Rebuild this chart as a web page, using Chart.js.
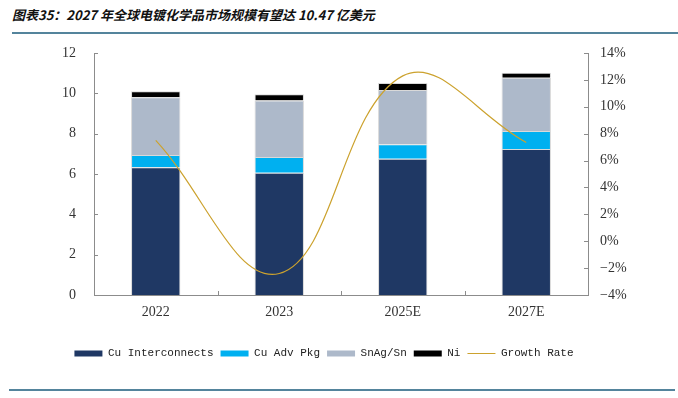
<!DOCTYPE html>
<html lang="zh">
  <head>
    <meta charset="UTF-8" />
    <title>电镀化学品市场规模</title>
    <script src="https://cdn.jsdelivr.net/npm/chart.js"></script>
    <style>
      body { margin: 0; background: #fff; }
      .wrap { position: relative; width: 678px; height: 398px; overflow: hidden; }
      .title {
        position: absolute; left: 12px; top: 5px;
        font-family: "Noto Sans CJK SC", sans-serif;
        font-size: 13px; font-weight: bold; font-style: italic;
        color: #111; white-space: nowrap;
      }
      .rule { position: absolute; height: 2px; background: #54849c; }
      canvas { position: absolute; left: 0; top: 0; }
    </style>
  </head>
  <body>
    <div class="wrap">
      <div class="title">图表35：2027 年全球电镀化学品市场规模有望达 10.47 亿美元</div>
      <div class="rule" style="left:12px; right:0; top:32px"></div>
      <canvas id="myChart" width="678" height="398"></canvas>
      <div class="rule" style="left:9px; width:666px; top:389px"></div>
    </div>
    <script>
      const years = ["2022", "2023", "2025E", "2027E"];
      const cuInter = [6.34, 6.06, 6.76, 7.24]; // Cu Interconnects
      const cuAdv = [0.6, 0.78, 0.71, 0.89]; // Cu Adv Pkg
      const snAg = [2.86, 2.81, 2.69, 2.64]; // SnAg/Sn
      const ni = [0.3, 0.31, 0.35, 0.25]; // Ni
      const growth = [7.5, -2.4, 12.3, 7.35]; // Growth Rate, %

      const axisColor = "#8c8c8c";

      // Excel style ticks: short marks pointing into the plot
      const innerTicks = {
        id: "innerTicks",
        afterDraw(chart) {
          const c = chart.ctx;
          const { x, y, y1 } = chart.scales;
          c.save();
          c.strokeStyle = axisColor;
          c.lineWidth = 1;
          c.beginPath();
          y.ticks.forEach((t) => {
            const py = Math.round(y.getPixelForValue(t.value)) + 0.5;
            c.moveTo(x.left, py);
            c.lineTo(x.left + 4, py);
          });
          y1.ticks.forEach((t) => {
            const py = Math.round(y1.getPixelForValue(t.value)) + 0.5;
            c.moveTo(x.right, py);
            c.lineTo(x.right - 4, py);
          });
          for (let i = 0; i < years.length - 1; i++) {
            const px = Math.round((x.getPixelForValue(i) + x.getPixelForValue(i + 1)) / 2) + 0.5;
            c.moveTo(px, y.bottom);
            c.lineTo(px, y.bottom - 4);
          }
          c.stroke();
          c.restore();
        },
      };

      const tickFont = { family: "'Liberation Serif', serif", size: 14 };
      const noGrid = { display: false, drawTicks: false };

      new Chart(document.getElementById("myChart"), {
        data: {
          labels: years,
          datasets: [
            { type: "bar", label: "Cu Interconnects", data: cuInter, backgroundColor: "#1f3864" },
            { type: "bar", label: "Cu Adv Pkg", data: cuAdv, backgroundColor: "#00b0f0" },
            { type: "bar", label: "SnAg/Sn", data: snAg, backgroundColor: "#adb9ca" },
            { type: "bar", label: "Ni", data: ni, backgroundColor: "#000000" },
            {
              type: "line",
              label: "Growth Rate",
              data: growth,
              yAxisID: "y1",
              borderColor: "#cca22e",
              backgroundColor: "#cca22e",
              borderWidth: 1.2,
              pointRadius: 0,
              tension: 0.4,
              order: 0,
            },
          ].map((d) => (d.type === "bar"
            ? Object.assign(d, { order: 1, borderColor: "#d9d9d9", borderWidth: 1, barPercentage: 0.4, categoryPercentage: 1 })
            : d)),
        },
        options: {
          responsive: false,
          animation: false,
          layout: { padding: { top: 53, left: 0, right: 30, bottom: 29 } },
          scales: {
            x: {
              stacked: true,
              grid: noGrid,
              border: { display: true, color: axisColor },
              ticks: { font: tickFont, color: "#333", padding: 9 },
              afterFit(s) { s.height = 46; },
            },
            y: {
              stacked: true,
              min: 0,
              max: 12,
              grid: noGrid,
              border: { display: true, color: axisColor },
              ticks: { stepSize: 2, font: tickFont, color: "#333", padding: 18 },
              afterFit(s) { s.width = 94; },
            },
            y1: {
              position: "right",
              min: -4,
              max: 14,
              grid: noGrid,
              border: { display: true, color: axisColor },
              ticks: {
                stepSize: 2,
                font: tickFont,
                color: "#333",
                padding: 12,
                callback: (v) => (v < 0 ? "\u2212" + Math.abs(v) : v) + "%",
              },
              afterFit(s) { s.width = 60; },
            },
          },
          plugins: {
            tooltip: { enabled: false },
            legend: {
              position: "bottom",
              labels: {
                font: { family: "'Liberation Mono', monospace", size: 11 },
                color: "#222",
                usePointStyle: true,
                pointStyleWidth: 28,
                boxHeight: 6,
                padding: 7,
                sort: (a, b) => a.datasetIndex - b.datasetIndex,
                generateLabels(chart) {
                  const items = Chart.defaults.plugins.legend.labels.generateLabels(chart);
                  items.forEach((it) => {
                    const ds = chart.data.datasets[it.datasetIndex];
                    if (ds.type === "line") {
                      it.pointStyle = "line";
                      it.lineWidth = 1;
                      it.strokeStyle = ds.borderColor;
                    } else {
                      it.pointStyle = "rect";
                      it.lineWidth = 0;
                      it.fillStyle = ds.backgroundColor;
                    }
                  });
                  return items;
                },
              },
            },
          },
        },
        plugins: [innerTicks],
      });
    </script>
  </body>
</html>
